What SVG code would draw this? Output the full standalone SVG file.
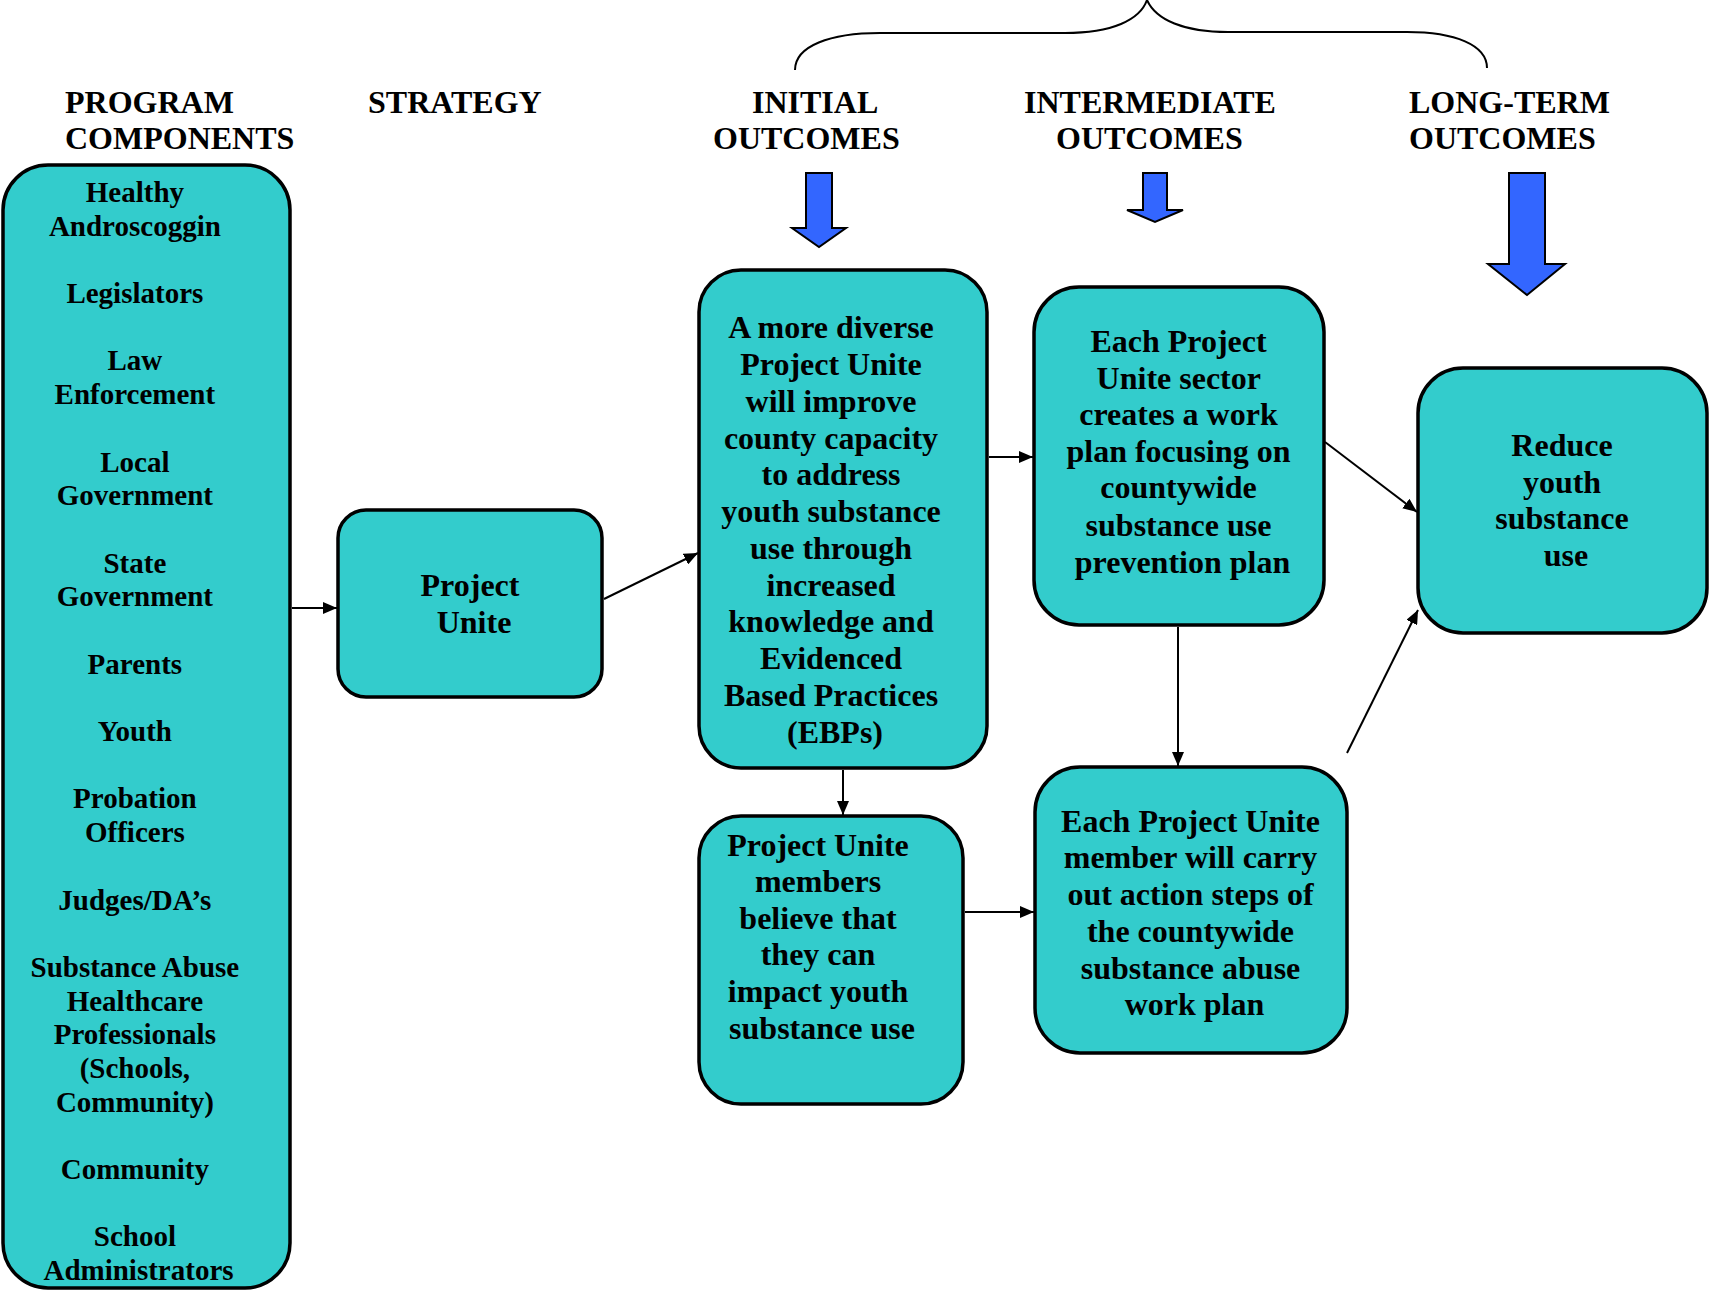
<svg xmlns="http://www.w3.org/2000/svg" width="1710" height="1290" viewBox="0 0 1710 1290">
<style>
.bg{fill:#FFFFFF}
.box{fill:#33CCCC;stroke:#000;stroke-width:3.5}
.t{font-family:"Liberation Serif","Times New Roman",serif;font-weight:bold;fill:#000}
.lt{font-size:29px;text-anchor:middle}
.bt{font-size:32px;text-anchor:middle}
.hd{font-size:32px}
.conn{stroke:#000;stroke-width:2;fill:none}
.blue{fill:#3366FF;stroke:#000;stroke-width:2;stroke-linejoin:miter}
.brace{fill:none;stroke:#000;stroke-width:2}
</style>
<defs>
<marker id="ah" viewBox="0 0 14 12" refX="14" refY="6" markerWidth="14" markerHeight="12" markerUnits="userSpaceOnUse" orient="auto">
<path d="M0,0 L14,6 L0,12 z" fill="#000"/>
</marker>
</defs>
<rect class="bg" x="0" y="0" width="1710" height="1290"/>

<g id="headers" class="t hd">
<text x="65" y="113">PROGRAM</text>
<text x="65" y="149">COMPONENTS</text>
<text x="368" y="113">STRATEGY</text>
<text x="752" y="113">INITIAL</text>
<text x="713" y="149">OUTCOMES</text>
<text x="1024" y="113">INTERMEDIATE</text>
<text x="1056" y="149">OUTCOMES</text>
<text x="1409" y="113">LONG-TERM</text>
<text x="1409" y="149">OUTCOMES</text>
</g>

<g id="brace">
<path class="brace" d="M795,70 C795,46 830,33 880,33 L1065,33 C1112,33 1140,20 1147,0 C1156,20 1184,32 1228,32 L1407,32 C1455,32 1487,45 1487,68"/>
</g>

<g id="blue-arrows">
<path class="blue" d="M806,173 L832,173 L832,228 L846,228 L819,247 L792,228 L806,228 z"/>
<path class="blue" d="M1143,173 L1167,173 L1167,210 L1183,210 L1155,222 L1127,210 L1143,210 z"/>
<path class="blue" d="M1509,173 L1545,173 L1545,264 L1565,264 L1527,295 L1488,264 L1509,264 z"/>
</g>

<g id="program-components">
<rect class="box" x="3" y="165" width="287" height="1123" rx="45" ry="45"/>
<text class="t lt">
<tspan x="138.5" y="202">Healthy</tspan>
<tspan x="138.5" y="235.7">Androscoggin</tspan>
<tspan x="138.5" y="303.1">Legislators</tspan>
<tspan x="138.5" y="370.4">Law</tspan>
<tspan x="138.5" y="404.1">Enforcement</tspan>
<tspan x="138.5" y="471.5">Local</tspan>
<tspan x="138.5" y="505.2">Government</tspan>
<tspan x="138.5" y="572.6">State</tspan>
<tspan x="138.5" y="606.3">Government</tspan>
<tspan x="138.5" y="673.7">Parents</tspan>
<tspan x="138.5" y="741">Youth</tspan>
<tspan x="138.5" y="808.4">Probation</tspan>
<tspan x="138.5" y="842.1">Officers</tspan>
<tspan x="138.5" y="909.5">Judges/DA’s</tspan>
<tspan x="138.5" y="976.9">Substance Abuse</tspan>
<tspan x="138.5" y="1010.6">Healthcare</tspan>
<tspan x="138.5" y="1044.3">Professionals</tspan>
<tspan x="138.5" y="1078">(Schools,</tspan>
<tspan x="138.5" y="1111.6">Community)</tspan>
<tspan x="138.5" y="1179">Community</tspan>
<tspan x="138.5" y="1246.4">School</tspan>
<tspan x="138.5" y="1280">Administrators</tspan>
</text>
</g>

<g id="strategy">
<rect class="box" x="338" y="510" width="264" height="187" rx="28" ry="28"/>
<text class="t bt">
<tspan x="474" y="596">Project</tspan>
<tspan x="474" y="633">Unite</tspan>
</text>
</g>

<g id="initial-1">
<rect class="box" x="699" y="270" width="288" height="498" rx="42" ry="42"/>
<text class="t bt">
<tspan x="835" y="338">A more diverse</tspan>
<tspan x="835" y="375">Project Unite</tspan>
<tspan x="835" y="412">will improve</tspan>
<tspan x="835" y="449">county capacity</tspan>
<tspan x="835" y="485">to address</tspan>
<tspan x="835" y="522">youth substance</tspan>
<tspan x="835" y="559">use through</tspan>
<tspan x="835" y="596">increased</tspan>
<tspan x="835" y="632">knowledge and</tspan>
<tspan x="835" y="669">Evidenced</tspan>
<tspan x="835" y="706">Based Practices</tspan>
<tspan x="835" y="743">(EBPs)</tspan>
</text>
</g>

<g id="initial-2">
<rect class="box" x="699" y="816" width="264" height="288" rx="42" ry="42"/>
<text class="t bt">
<tspan x="822" y="856">Project Unite</tspan>
<tspan x="822" y="892">members</tspan>
<tspan x="822" y="929">believe that</tspan>
<tspan x="822" y="965">they can</tspan>
<tspan x="822" y="1002">impact youth</tspan>
<tspan x="822" y="1039">substance use</tspan>
</text>
</g>

<g id="intermediate-1">
<rect class="box" x="1034" y="287" width="290" height="338" rx="45" ry="45"/>
<text class="t bt">
<tspan x="1182.5" y="352">Each Project</tspan>
<tspan x="1182.5" y="389">Unite sector</tspan>
<tspan x="1182.5" y="425">creates a work</tspan>
<tspan x="1182.5" y="462">plan focusing on</tspan>
<tspan x="1182.5" y="498">countywide</tspan>
<tspan x="1182.5" y="536">substance use</tspan>
<tspan x="1182.5" y="573">prevention plan</tspan>
</text>
</g>

<g id="intermediate-2">
<rect class="box" x="1035" y="767" width="312" height="286" rx="45" ry="45"/>
<text class="t bt">
<tspan x="1194.5" y="832">Each Project Unite</tspan>
<tspan x="1194.5" y="868">member will carry</tspan>
<tspan x="1194.5" y="905">out action steps of</tspan>
<tspan x="1194.5" y="942">the countywide</tspan>
<tspan x="1194.5" y="979">substance abuse</tspan>
<tspan x="1194.5" y="1015">work plan</tspan>
</text>
</g>

<g id="long-term">
<rect class="box" x="1418" y="368" width="289" height="265" rx="45" ry="45"/>
<text class="t bt">
<tspan x="1566" y="456">Reduce</tspan>
<tspan x="1566" y="493">youth</tspan>
<tspan x="1566" y="529">substance</tspan>
<tspan x="1566" y="566">use</tspan>
</text>
</g>

<g id="connectors">
<line class="conn" x1="292" y1="608" x2="337" y2="608" marker-end="url(#ah)"/>
<line class="conn" x1="604" y1="599" x2="698" y2="553" marker-end="url(#ah)"/>
<line class="conn" x1="989" y1="457" x2="1033" y2="457" marker-end="url(#ah)"/>
<line class="conn" x1="1325" y1="442" x2="1417" y2="512" marker-end="url(#ah)"/>
<line class="conn" x1="1178" y1="627" x2="1178" y2="766" marker-end="url(#ah)"/>
<line class="conn" x1="1347" y1="753" x2="1418" y2="610" marker-end="url(#ah)"/>
<line class="conn" x1="843" y1="770" x2="843" y2="815" marker-end="url(#ah)"/>
<line class="conn" x1="965" y1="912" x2="1034" y2="912" marker-end="url(#ah)"/>
</g>
</svg>
